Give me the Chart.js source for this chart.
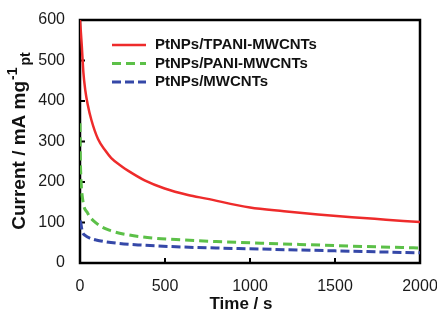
<!DOCTYPE html>
<html>
<head>
<meta charset="utf-8">
<script src="https://cdn.jsdelivr.net/npm/chart.js@4.4.1/dist/chart.umd.min.js"></script>
<style>
  html, body { margin: 0; padding: 0; background: #fff; }
  #wrap { width: 437px; height: 313px; position: relative; }
</style>
</head>
<body>
<div id="wrap"><canvas id="c"></canvas></div>
<script>
// Chronoamperometry curves, values.
const seriesLabels = ["PtNPs/TPANI-MWCNTs", "PtNPs/PANI-MWCNTs", "PtNPs/MWCNTs"];

const redTime    = [0, 10, 20, 31, 45, 67, 106, 150, 184, 250, 282, 380, 498, 635, 743, 1000, 1200, 1400, 1600, 1800, 2000];
const redCurrent = [600, 540, 470, 427, 392, 353, 306, 277, 259, 237, 228, 204, 184, 168, 159, 137, 128, 120, 113, 107, 101];

const greenTime    = [0, 2, 6, 16, 45, 94, 172, 290, 447, 604, 800, 1000, 1500, 2000];
const greenCurrent = [345, 260, 205, 156, 123, 99, 81, 69, 61, 57, 53, 50, 43, 37];

const blueTime    = [0, 5, 10, 16, 30, 60, 94, 212, 369, 565, 800, 1000, 1500, 2000];
const blueCurrent = [105, 98, 85, 75, 68, 61, 57, 49, 44, 40, 37, 35, 30, 25];

const xTickMarks = [500, 1000, 1500];
const yTickMarks = [100, 200, 300, 400, 500];

const FONT = "'Liberation Sans', Arial, sans-serif";

const pts = (ts, vs) => ts.map((t, i) => ({ x: t, y: vs[i] }));

// frame + inward ticks under the curves, legend and axis titles on top
const framePlugin = {
  id: "frame",
  beforeDatasetsDraw(chart) {
    const { ctx, chartArea: a, scales: { x, y } } = chart;
    ctx.save();
    ctx.strokeStyle = "#000";
    ctx.lineWidth = 2.5;
    ctx.strokeRect(a.left, a.top, a.right - a.left, a.bottom - a.top);
    ctx.lineWidth = 2;
    ctx.beginPath();
    for (const v of yTickMarks) {
      const py = y.getPixelForValue(v);
      ctx.moveTo(a.left, py); ctx.lineTo(a.left + 5, py);
    }
    for (const v of xTickMarks) {
      const px = x.getPixelForValue(v);
      ctx.moveTo(px, a.bottom); ctx.lineTo(px, a.bottom - 5);
    }
    ctx.stroke();
    ctx.restore();
  },
  afterDraw(chart) {
    const { ctx, chartArea: a } = chart;
    ctx.save();
    ctx.textBaseline = "middle";
    ctx.fillStyle = "#111";

    // legend
    ctx.font = "bold 15px " + FONT;
    chart.data.datasets.forEach((ds, i) => {
      const ly = a.top + 25 + i * 18.5;
      ctx.strokeStyle = ds.borderColor;
      ctx.lineWidth = ds.borderWidth;
      ctx.setLineDash(ds.borderDash || []);
      ctx.beginPath();
      ctx.moveTo(a.left + 32, ly); ctx.lineTo(a.left + 66, ly);
      ctx.stroke();
      ctx.setLineDash([]);
      ctx.fillText(ds.label, a.left + 75, ly);
    });

    // x title
    ctx.font = "bold 17px " + FONT;
    ctx.textAlign = "center";
    ctx.fillText("Time / s", 241, 304);

    // y title with superscript / subscript
    const main = "Current / mA mg", sup = "-1", sub = "pt";
    const bigF = "bold 19px " + FONT, smallF = "bold 14px " + FONT;
    ctx.font = bigF; const wMain = ctx.measureText(main).width;
    ctx.font = smallF; const wSup = ctx.measureText(sup).width, wSub = ctx.measureText(sub).width;
    const total = wMain + wSup + 3 + wSub;
    ctx.translate(20, 141);
    ctx.rotate(-Math.PI / 2);
    ctx.textAlign = "left";
    let cx = -total / 2;
    ctx.font = bigF; ctx.fillText(main, cx, 0); cx += wMain + 1;
    ctx.font = smallF; ctx.fillText(sup, cx, -7); cx += wSup + 2;
    ctx.fillText(sub, cx, 6);
    ctx.restore();
  }
};

new Chart(document.getElementById("c"), {
  type: "line",
  data: {
    datasets: [
      { label: seriesLabels[0], data: pts(redTime, redCurrent), borderColor: "#ee2b2b", borderWidth: 2.5 },
      { label: seriesLabels[1], data: pts(greenTime, greenCurrent), borderColor: "#5cc048", borderWidth: 3, borderDash: [9, 5] },
      { label: seriesLabels[2], data: pts(blueTime, blueCurrent), borderColor: "#3548a8", borderWidth: 3, borderDash: [9, 4] },
    ],
  },
  options: {
    responsive: true, maintainAspectRatio: false,
    animation: false,
    layout: { padding: { top: 20, right: 17, left: 0, bottom: 0 } },
    elements: { point: { radius: 0 }, line: { cubicInterpolationMode: "monotone", fill: false } },
    scales: {
      x: {
        type: "linear", min: 0, max: 2000,
        grid: { display: false }, border: { display: false },
        ticks: { stepSize: 500, padding: 6, color: "#1a1a1a", font: { size: 16, family: FONT }, callback: (v) => String(v) },
        afterFit: (s) => { s.height = 50; s.paddingRight = 0; s.paddingLeft = 0; },
      },
      y: {
        min: 0, max: 600,
        grid: { display: false }, border: { display: false },
        ticks: { stepSize: 100, padding: 7, color: "#1a1a1a", font: { size: 16, family: FONT } },
        afterFit: (s) => { s.width = 80; },
      },
    },
    plugins: { legend: { display: false }, tooltip: { enabled: false } },
  },
  plugins: [framePlugin],
});
</script>
</body>
</html>
